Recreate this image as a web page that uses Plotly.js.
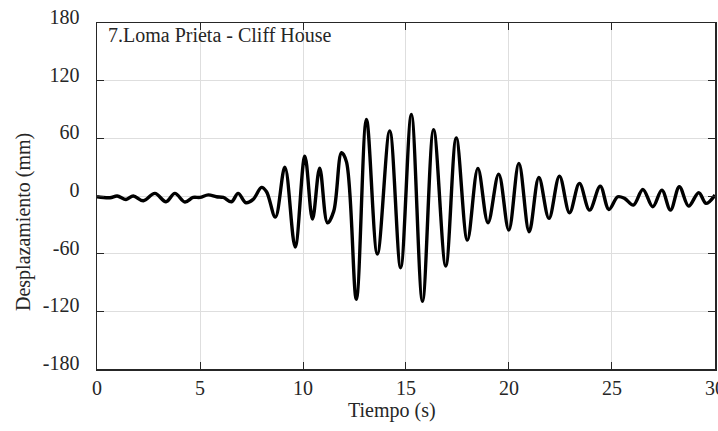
<!DOCTYPE html>
<html>
<head>
<meta charset="utf-8">
<script src="https://cdn.plot.ly/plotly-3.0.1.min.js"></script>
<style>html,body{margin:0;padding:0;background:#fff;}#chart{width:718px;height:431px;}</style>
</head>
<body>
<div id="chart"></div>
<script>
// Time (s)
const tiempo = [0.0, 0.63, 0.98, 1.41, 1.76, 2.25, 2.81, 3.35, 3.78, 4.27, 4.67, 5.0, 5.40, 5.80, 6.13, 6.53, 6.85, 7.23, 7.58, 7.99, 8.23, 8.66,
  9.12, 9.62, 10.09, 10.46, 10.81, 11.19, 11.49, 11.87, 12.11, 12.59, 13.08, 13.61, 14.21, 14.74, 15.26, 15.80, 16.34, 16.93,
  17.44, 17.98, 18.49, 18.98, 19.50, 19.99, 20.48, 20.98, 21.45, 21.94, 22.45, 22.94, 23.42, 23.91, 24.43, 24.85, 25.28,
  25.61, 26.04, 26.50, 26.98, 27.42, 27.84, 28.27, 28.72, 29.21, 29.57, 30.0];
// Displacement (mm)
const desplazamiento = [-0.8, -1.8, 0, -3.6, 0, -5, 2.7, -6, 2.7, -6.3, -1.5, -1.5, 1.2, -0.8, -1.5, -6, 2.7, -7, -3.5, 9, 4.4, -22,
  30, -53, 41.5, -24, 29, -28, -16, 45, 35.5, -107.5, 79.6, -60.4, 67.8, -74.6, 84.8, -109.6, 69, -72.9,
  60.5, -45.9, 28.7, -27.8, 22.8, -35.5, 33.9, -37.2, 19.3, -23.3, 20.7, -17.4, 13.1, -14.7, 10.3, -14, -0.8,
  -2.5, -9.5, 6.8, -11.2, 6.1, -14.7, 9.6, -10.5, 3.4, -7.7, 1];

const xTicks = [0, 5, 10, 15, 20, 25, 30];
const yTicks = [-180, -120, -60, 0, 60, 120, 180];
const tituloRegistro = '7.Loma Prieta - Cliff House';
const tituloX = 'Tiempo (s)';
const tituloY = 'Desplazamiento (mm)';

const fontFam = '"Liberation Serif", "Times New Roman", serif';
const fnt = {family: fontFam, size: 20, color: '#262626'};

const trace = {
  x: tiempo, y: desplazamiento, type: 'scatter', mode: 'lines',
  line: {color: '#000000', width: 3.4, shape: 'spline', smoothing: 1.0},
  hoverinfo: 'skip'
};

const axisCommon = {
  showline: true, linecolor: '#262626', linewidth: 1.5, mirror: 'ticks',
  ticks: 'inside', ticklen: 7, tickwidth: 1, tickcolor: '#262626',
  showgrid: true, gridcolor: '#dedede', gridwidth: 1, zeroline: false,
  tickfont: fnt, fixedrange: true
};

const layout = {
  width: 718, height: 431,
  margin: {l: 97, r: 3, t: 23, b: 62, pad: 0},
  paper_bgcolor: '#ffffff', plot_bgcolor: '#ffffff',
  showlegend: false,
  font: fnt,
  xaxis: Object.assign({}, axisCommon, {range: [0, 30.0005], tickvals: xTicks, ticktext: xTicks.map(String),
    ticklabeloverflow: 'allow'}),
  yaxis: Object.assign({}, axisCommon, {range: [-180, 180], tickvals: yTicks, ticktext: yTicks.map(String),
    ticklabelstandoff: 12, ticklabelshift: -6}),
  annotations: [
    {text: tituloRegistro, xref: 'paper', yref: 'paper', x: 0.015, y: 0.965, xanchor: 'left', yanchor: 'middle',
     showarrow: false, font: {family: fontFam, size: 20, color: '#262626'}},
    {text: tituloX, xref: 'paper', yref: 'paper', x: (392 - 97) / 618, y: 0, yshift: -41, xanchor: 'center', yanchor: 'middle',
     showarrow: false, font: {family: fontFam, size: 20, color: '#262626'}},
    {text: tituloY, xref: 'paper', yref: 'paper', x: 0, xshift: -74, y: (369 - 222) / 346, xanchor: 'center', yanchor: 'middle',
     textangle: -90, showarrow: false, font: {family: fontFam, size: 20, color: '#262626'}}
  ]
};

Plotly.newPlot('chart', [trace], layout, {displayModeBar: false, staticPlot: true});
</script>
</body>
</html>
